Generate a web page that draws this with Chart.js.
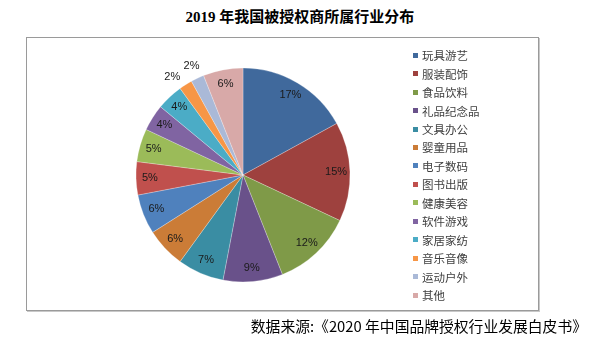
<!DOCTYPE html>
<html>
<head>
<meta charset="utf-8">
<script src="https://cdn.jsdelivr.net/npm/chart.js@4.4.0/dist/chart.umd.min.js"></script>
<style>
  html, body { margin: 0; padding: 0; background: #fff; }
  body { width: 596px; height: 351px; position: relative; overflow: hidden; }
  #title { position: absolute; left: 0; width: 600px; top: 5px; text-align: center;
    font: bold 15px "Liberation Serif", "Noto Sans CJK SC", serif; color: #000; white-space: nowrap; }
  #frame { position: absolute; left: 26px; top: 37px; width: 513px; height: 274px;
    border: 1px solid #9a9a9a; box-shadow: 1px 1px 0 #c8c8c8; box-sizing: border-box; }
  #cv { position: absolute; left: 0; top: 0; }
  #legend { position: absolute; left: 413px; top: 46px; }
  .row { height: 18.46px; display: flex; align-items: center; font: 11.5px "Noto Sans CJK SC", sans-serif; color: #404040; white-space: nowrap; }
  .sw { width: 5px; height: 5px; margin-right: 4px; }
  #source { position: absolute; right: 9px; top: 317px; font: 14.8px "Noto Sans CJK SC", sans-serif; color: #000; white-space: nowrap; line-height: 18px; }
</style>
</head>
<body>
<div id="title">2019 年我国被授权商所属行业分布</div>
<div id="frame"></div>
<canvas id="cv" width="596" height="351"></canvas>
<div id="legend"></div>
<div id="source">数据来源:《2020 年中国品牌授权行业发展白皮书》</div>
<script>
const categories = ['玩具游艺','服装配饰','食品饮料','礼品纪念品','文具办公','婴童用品','电子数码','图书出版','健康美容','软件游戏','家居家纺','音乐音像','运动户外','其他'];
const shares = [17, 15, 12, 9, 7, 6, 6, 5, 5, 4, 4, 2, 2, 6];
const colors = ['#40699C','#9E413E','#7F9A48','#69518A','#3A8DA3','#CB7C37','#4F81BD','#C0504D','#9BBB59','#8064A2','#4BACC6','#F79646','#AAB9D7','#D8A9A8'];

const legend = document.getElementById('legend');
categories.forEach((c, i) => {
  const row = document.createElement('div');
  row.className = 'row';
  const sw = document.createElement('span');
  sw.className = 'sw';
  sw.style.background = colors[i];
  const t = document.createElement('span');
  t.textContent = c;
  row.appendChild(sw); row.appendChild(t);
  legend.appendChild(row);
});

const labelPlugin = {
  id: 'sliceLabels',
  afterDatasetsDraw(chart) {
    const ctx = chart.ctx;
    const meta = chart.getDatasetMeta(0);
    ctx.save();
    ctx.font = '11px "Liberation Sans", sans-serif';
    ctx.fillStyle = '#1a1a1a';
    ctx.textAlign = 'center';
    ctx.textBaseline = 'middle';
    let outsideCount = 0;
    meta.data.forEach((arc, i) => {
      const p = arc.getProps(['x','y','startAngle','endAngle','outerRadius'], true);
      let mid = (p.startAngle + p.endAngle) / 2;
      const v = chart.data.datasets[0].data[i];
      let r = p.outerRadius * 0.87;
      if (v <= 2) {
        r = p.outerRadius * 1.13;
        if (outsideCount === 0) mid -= 0.06;
        outsideCount++;
      }
      ctx.fillText(v + '%', p.x + Math.cos(mid) * r, p.y + Math.sin(mid) * r);
    });
    ctx.restore();
  }
};

new Chart(document.getElementById('cv'), {
  type: 'pie',
  data: {
    labels: categories,
    datasets: [{ data: shares, backgroundColor: colors, borderWidth: 0.5, borderColor: 'rgba(255,255,255,0.5)' }]
  },
  options: {
    responsive: false,
    animation: false,
    radius: 107,
    layout: { padding: { left: 20, right: 130, top: 60, bottom: 61 } },
    plugins: { legend: { display: false }, tooltip: { enabled: false }, title: { display: false } }
  },
  plugins: [labelPlugin]
});
</script>
</body>
</html>
